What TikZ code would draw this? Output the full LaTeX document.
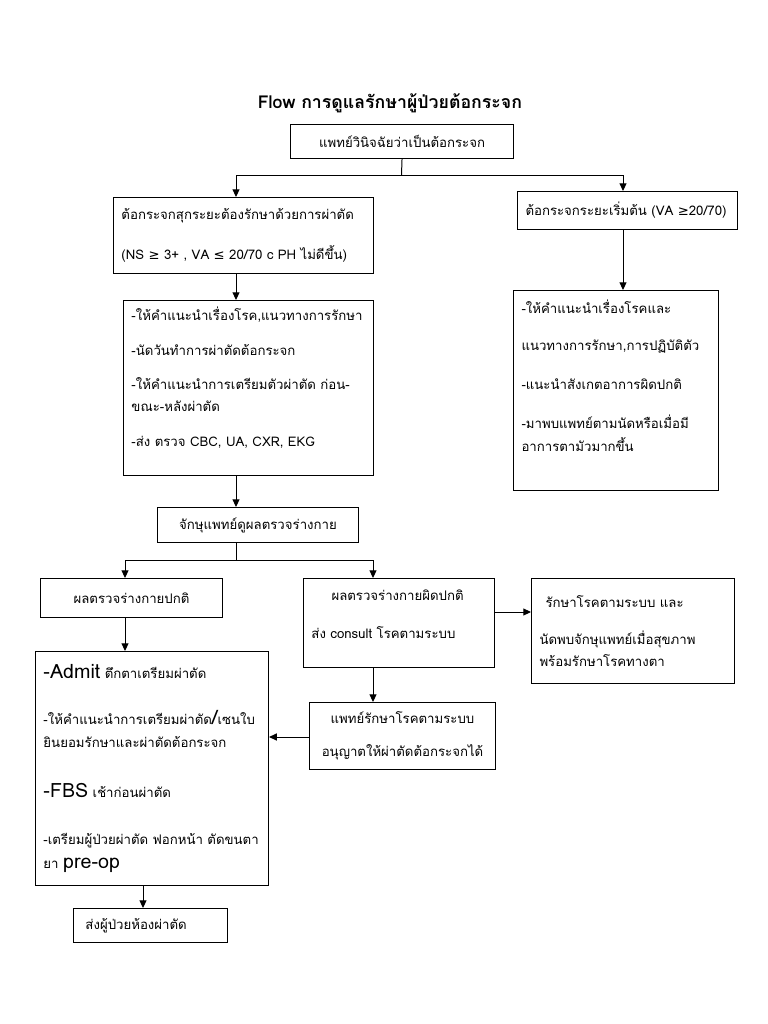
\documentclass[tikz,border=0pt]{standalone}
\usepackage{fontspec}
\setmainfont[Script=Thai]{Loma}
\newfontfamily\symfont{DejaVu Sans}
\usetikzlibrary{arrows.meta}
\tikzset{>={Triangle[length=5.5pt,width=5pt]}}
\newcommand{\bigtxt}[1]{{\fontsize{14}{16}\selectfont #1}}
\newcommand{\symge}{{\symfont ≥}}
\newcommand{\symle}{{\symfont ≤}}

\begin{document}
\begin{tikzpicture}[x=0.025cm,y=-0.025cm,line width=0.7pt,
  every node/.style={font=\fontsize{9.4}{15.8}\selectfont},
  box/.style={draw,anchor=north west,inner xsep=0.2cm,inner ysep=0pt}]
\useasboundingbox (0,0) rectangle (768,1024);
\node[font=\fontsize{12.6}{16}\selectfont\bfseries] (T) at (390,103) {Flow การดูแลรักษาผู้ป่วยต้อกระจก};
\node[box,text width=5.175cm,minimum height=0.85cm,align=center] (N1) at (290,124) {แพทย์วินิจฉัยว่าเป็นต้อกระจก};
\node[box,text width=6.1cm,minimum height=1.9cm,align=left] (N2) at (113,197) {ต้อกระจกสุกระยะต้องรักษาด้วยการผ่าตัด\\[0.45cm](NS \symge{} 3+ , VA \symle{} 20/70 c PH ไม่ดีขึ้น)};
\node[box,text width=5.1cm,minimum height=0.95cm,align=left] (N3) at (517,191) {ต้อกระจกระยะเริ่มต้น (VA \symge20/70)};
\node[box,text width=5.85cm,minimum height=4.375cm,align=left] (N4) at (123,300) {-ให้คำแนะนำเรื่องโรค,แนวทางการรักษา\\[0.3cm]-นัดวันทำการผ่าตัดต้อกระจก\\[0.3cm]-ให้คำแนะนำการเตรียมตัวผ่าตัด ก่อน-\\ขณะ-หลังผ่าตัด\\[0.32cm]-ส่ง ตรวจ CBC, UA, CXR, EKG\\[0cm]\mbox{}};
\node[box,text width=4.725cm,minimum height=5cm,align=left] (N5) at (513,290) {-ให้คำแนะนำเรื่องโรคและ\\[0.38cm]แนวทางการรักษา,การปฏิบัติตัว\\[0.42cm]-แนะนำสังเกตอาการผิดปกติ\\[0.42cm]-มาพบแพทย์ตามนัดหรือเมื่อมี\\อาการตามัวมากขึ้น\\[0.2cm]\mbox{}};
\node[box,text width=4.625cm,minimum height=0.875cm,align=center] (N6) at (157,507) {จักษุแพทย์ดูผลตรวจร่างกาย};
\node[box,text width=4.15cm,minimum height=0.975cm,align=center] (N7) at (40,578) {ผลตรวจร่างกายปกติ};
\node[box,text width=4.375cm,minimum height=2.225cm,align=left] (N8) at (303,578) {\hspace*{0.5cm}ผลตรวจร่างกายผิดปกติ\\[0.4cm]ส่ง consult โรคตามระบบ\\[-0.1cm]\mbox{}};
\node[box,text width=4.675cm,minimum height=2.625cm,align=left] (N9) at (531,578) {\hspace*{0.15cm}รักษาโรคตามระบบ และ\\[0.38cm]นัดพบจักษุแพทย์เมื่อสุขภาพ\\พร้อมรักษาโรคทางตา};
\node[box,text width=4.25cm,minimum height=1.675cm,align=center] (N10) at (309,702) {แพทย์รักษาโรคตามระบบ\\[0.26cm]อนุญาตให้ผ่าตัดต้อกระจกได้};
\node[box,text width=5.425cm,minimum height=5.85cm,align=left] (N11) at (35,651) {\bigtxt{-Admit} ตึกตาเตรียมผ่าตัด\\[0.6cm]-ให้คำแนะนำการเตรียมผ่าตัด\bigtxt{/}เซนใบ\\ยินยอมรักษาและผ่าตัดต้อกระจก\\[0.7cm]\bigtxt{-FBS} เช้าก่อนผ่าตัด\\[0.62cm]-เตรียมผู้ป่วยผ่าตัด ฟอกหน้า ตัดขนตา\\[0.05cm]ยา \bigtxt{pre-op}};
\node[box,text width=3.45cm,minimum height=0.85cm,align=left] (N12) at (73,908) {\hspace*{0.1cm}ส่งผู้ป่วยห้องผ่าตัด};
% connector columns
\coordinate (xa) at (236,0);
\coordinate (xb) at (623,0);
\coordinate (xc) at (125,0);
\coordinate (xd) at (373,0);
\coordinate (xe) at (143,0);
\coordinate (ya) at (0,612);
\coordinate (yb) at (0,737);
\draw (N1.south) -- (401.5,175) coordinate (J1);
\draw[->] (J1) -| (N2.north -| xa);
\draw[->] (J1) -| (N3.north -| xb);
\draw[->] (N2.south -| xa) -- (N4.north -| xa);
\draw[->] (N3.south -| xb) -- (N5.north -| xb);
\draw[->] (N4.south -| xa) -- (N6.north -| xa);
\draw (N6.south -| xa) -- (236,560) coordinate (J2);
\draw[->] (J2) -| (N7.north -| xc);
\draw[->] (J2) -| (N8.north -| xd);
\draw[->] (N8.east |- ya) -- (N9.west |- ya);
\draw[->] (N8.south -| xd) -- (N10.north -| xd);
\draw[->] (N10.west |- yb) -- (N11.east |- yb);
\draw[->] (N7.south -| xc) -- (N11.north -| xc);
\draw[->] (N11.south -| xe) -- (N12.north -| xe);
\end{tikzpicture}
\end{document}
